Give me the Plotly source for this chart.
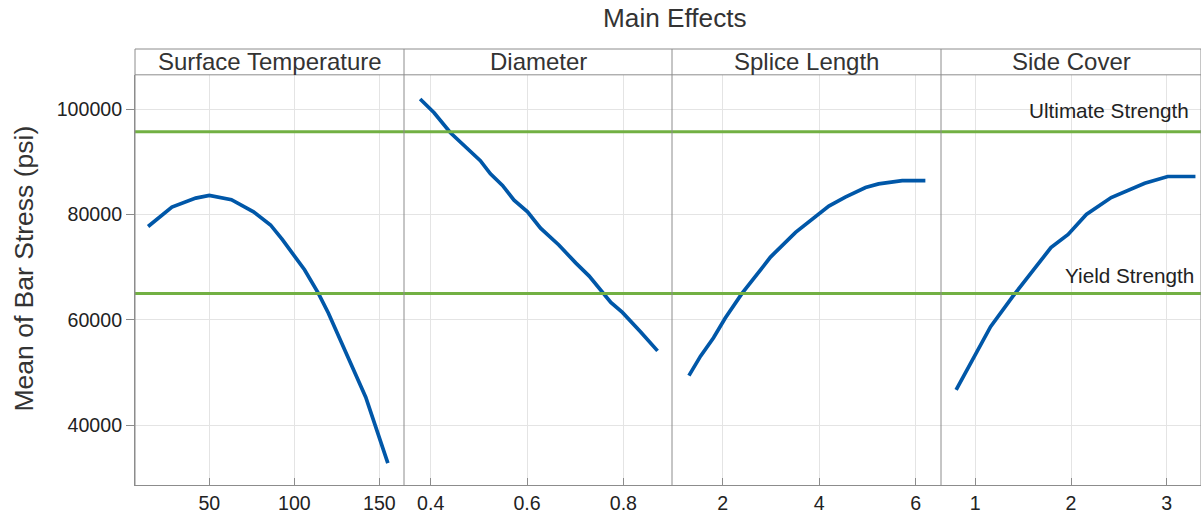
import plotly.graph_objects as go

# ---- data ----
temp_x = [14, 28, 42, 50, 63, 76, 86, 93, 106, 114, 120, 134, 142, 155]
temp_y = [77700, 81400, 83100, 83600, 82800, 80500, 78000, 75200, 69500, 65100, 61300, 50900, 45300, 32800]

diam_x = [0.378, 0.407, 0.441, 0.503, 0.524, 0.549, 0.573, 0.601, 0.628, 0.666, 0.701, 0.729, 0.774, 0.798, 0.836, 0.871]
diam_y = [101900, 99300, 95500, 90200, 87700, 85500, 82700, 80500, 77400, 74200, 70800, 68300, 63300, 61400, 57700, 54100]

splice_x = [1.30, 1.54, 1.81, 2.05, 2.40, 2.68, 2.99, 3.51, 3.75, 3.99, 4.20, 4.54, 4.96, 5.23, 5.72, 6.20]
splice_y = [49400, 53100, 56600, 60300, 65000, 68400, 71900, 76600, 78400, 80000, 81600, 83300, 85100, 85800, 86400, 86400]

cover_x = [0.80, 0.99, 1.16, 1.39, 1.55, 1.79, 1.97, 2.16, 2.42, 2.59, 2.77, 3.01, 3.30]
cover_y = [46700, 53100, 58700, 64400, 68100, 73700, 76200, 80000, 83200, 84600, 85900, 87200, 87200]

panel_titles = ["Surface Temperature", "Diameter", "Splice Length", "Side Cover"]
x_ticks = [[50, 100, 150], [0.4, 0.6, 0.8], [2, 4, 6], [1, 2, 3]]
x_tick_text = [["50", "100", "150"], ["0.4", "0.6", "0.8"], ["2", "4", "6"], ["1", "2", "3"]]
x_ranges = [[6.3, 164.5], [0.3445, 0.901], [0.949, 6.524], [0.642, 3.358]]
y_ticks = [40000, 60000, 80000, 100000]
y_range = [28640, 106500]

ultimate_strength = 95700
yield_strength = 65000

# ---- layout constants ----
W, H = 1201, 514
ML, MT, MB = 135, 49, 26
plot_w = W - ML
plot_h = H - MT - MB
strip_h = 26
y_dom_top = (plot_h - strip_h) / plot_h
px_bounds = [135, 404, 672, 941, 1201]
domains = [[(px_bounds[i] - ML) / plot_w, (px_bounds[i + 1] - ML) / plot_w] for i in range(4)]

FONT = "Arial, 'Liberation Sans', sans-serif"
BLUE = "#0057a8"
GREEN = "#72b043"
GRID = "#e4e4e4"
AXIS = "#8c8c8c"

fig = go.Figure()
series = [(temp_x, temp_y), (diam_x, diam_y), (splice_x, splice_y), (cover_x, cover_y)]
for i, (xs, ys) in enumerate(series):
    xa = "x" if i == 0 else f"x{i+1}"
    fig.add_trace(go.Scatter(x=xs, y=ys, mode="lines", xaxis=xa, yaxis="y",
                             line=dict(color=BLUE, width=3.7), showlegend=False,
                             hoverinfo="x+y"))

layout = dict(
    width=W, height=H,
    margin=dict(l=ML, r=0, t=MT, b=MB, pad=0),
    paper_bgcolor="white", plot_bgcolor="white",
    font=dict(family=FONT, color="#222"),
    showlegend=False,
    yaxis=dict(domain=[0, y_dom_top], range=y_range, tickvals=y_ticks, tickformat="d",
               showgrid=True, gridcolor=GRID, gridwidth=1, zeroline=False,
               showline=True, linecolor=AXIS, linewidth=1,
               ticks="outside", ticklen=8, tickcolor=AXIS,
               tickfont=dict(size=19.6, color="#222"), anchor="x"),
)
for i in range(4):
    key = "xaxis" if i == 0 else f"xaxis{i+1}"
    layout[key] = dict(domain=domains[i], range=x_ranges[i], tickvals=x_ticks[i],
                       ticktext=x_tick_text[i], showgrid=True, gridcolor=GRID, gridwidth=1,
                       zeroline=False, showline=True, linecolor=AXIS, linewidth=1,
                       ticks="inside", ticklen=7, tickcolor=AXIS,
                       tickfont=dict(size=19.6, color="#222"), anchor="y")
fig.update_layout(**layout)

shapes = []
# reference lines
for v in [ultimate_strength, yield_strength]:
    shapes.append(dict(type="line", xref="paper", yref="y", x0=0, x1=1, y0=v, y1=v,
                       line=dict(color=GREEN, width=3), layer="above"))
# panel dividers
for b in px_bounds[1:]:
    xp = (b - ML) / plot_w
    shapes.append(dict(type="line", xref="paper", yref="paper", x0=xp, x1=xp, y0=0, y1=1,
                       line=dict(color=AXIS, width=1)))
# strip borders
shapes.append(dict(type="line", xref="paper", yref="paper", x0=0, x1=1, y0=1, y1=1,
                   line=dict(color=AXIS, width=1)))
shapes.append(dict(type="line", xref="paper", yref="paper", x0=0, x1=1, y0=y_dom_top, y1=y_dom_top,
                   line=dict(color=AXIS, width=1)))
shapes.append(dict(type="line", xref="paper", yref="paper", x0=0, x1=0, y0=0, y1=1,
                   line=dict(color=AXIS, width=1)))

annotations = []
for i, t in enumerate(panel_titles):
    annotations.append(dict(text=t, xref="paper", yref="paper",
                            x=(domains[i][0] + domains[i][1]) / 2, y=(1 + y_dom_top) / 2,
                            xanchor="center", yanchor="middle", showarrow=False,
                            font=dict(size=24, color="#333")))
annotations.append(dict(text="Ultimate Strength", xref="paper", yref="y",
                        x=(1191 - ML) / plot_w, y=99700, xanchor="right", yanchor="middle",
                        showarrow=False, font=dict(size=20.7, color="#222")))
annotations.append(dict(text="Yield Strength", xref="paper", yref="y",
                        x=(1196 - ML) / plot_w, y=68440, xanchor="right", yanchor="middle",
                        showarrow=False, font=dict(size=20.7, color="#222")))
annotations.append(dict(text="Main Effects", xref="paper", yref="paper",
                        x=(675 - ML) / plot_w, y=1 + (MT - 18) / plot_h,
                        xanchor="center", yanchor="middle", showarrow=False,
                        font=dict(size=26.2, color="#333")))
annotations.append(dict(text="Mean of Bar Stress (psi)", xref="paper", yref="paper",
                        x=(24 - ML) / plot_w, y=(H - MB - 270) / plot_h,
                        xanchor="center", yanchor="middle", showarrow=False, textangle=-90,
                        font=dict(size=26.5, color="#333")))

fig.update_layout(shapes=shapes, annotations=annotations)
fig.write_html("out.html")
